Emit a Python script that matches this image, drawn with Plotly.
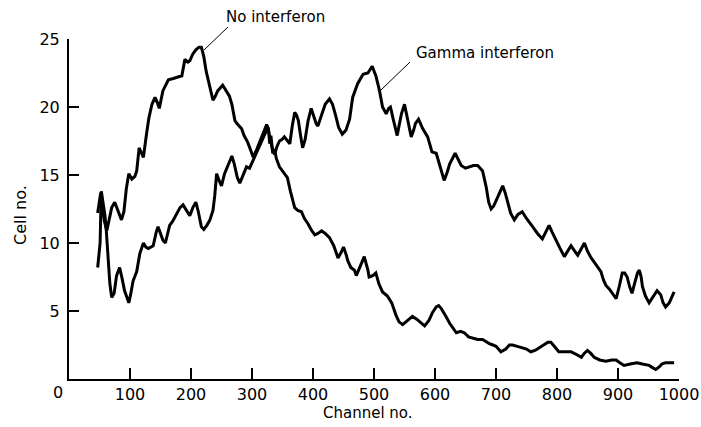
import plotly.graph_objects as go

# ---- data ----
no_ifn_channel = [47, 50, 52, 55, 58, 62, 66, 70, 75, 80, 86, 90, 94, 98, 103, 108, 111, 115, 119, 122,
                  127, 131, 136, 141, 145, 148, 154, 158, 163, 171, 179, 185, 190, 195, 198, 203, 208, 213,
                  217, 221, 225, 231, 236, 240, 244, 252, 258, 263, 267, 272, 275, 283, 287, 293, 298, 302,
                  308, 314, 320, 324, 327, 329, 331, 334, 337, 340, 345, 350, 358, 363, 370, 375, 381, 386,
                  392, 398, 403, 408, 414, 420, 427, 434, 441, 446, 450, 454, 457, 462, 468, 471, 477, 484,
                  490, 492, 498, 503, 508, 514, 522, 529, 536, 541, 547, 555, 563, 570, 577, 583, 590, 596,
                  602, 606, 610, 613, 618, 624, 630, 635, 642, 648, 655, 661, 670, 678, 684, 689, 695, 700,
                  708, 716, 722, 727, 735, 743, 750, 757, 764, 771, 778, 785, 790, 796, 803, 812, 823, 832,
                  840, 845, 850, 855, 861, 870, 880, 890, 897, 903, 910, 920, 931, 940, 951, 958, 962, 968,
                  972, 978, 985, 992]
no_ifn_cells = [12.2, 13.0, 13.7, 12.5, 11.6, 10.9, 11.8, 12.6, 13.0, 12.4, 11.7, 12.3, 14.0, 15.1, 14.7,
                14.9, 15.3, 17.0, 16.6, 16.3, 18.0, 19.2, 20.2, 20.7, 20.3, 19.9, 21.2, 21.6, 22.0, 22.1,
                22.2, 22.3, 23.5, 23.3, 23.4, 23.9, 24.2, 24.4, 24.4, 23.7, 22.6, 21.4, 20.5, 20.8, 21.2,
                21.6, 21.2, 20.8, 20.2, 19.0, 18.8, 18.4, 17.9, 17.4, 16.8, 16.3, 16.9, 17.6, 18.3, 18.7,
                18.4, 17.3, 17.9, 16.6, 16.9, 16.2, 15.6, 15.3, 14.8, 13.8, 12.6, 12.4, 12.3, 11.8, 11.4,
                10.9, 10.6, 10.7, 10.9, 10.7, 10.4, 9.8, 8.9, 9.3, 9.7, 9.2, 8.7, 8.2, 8.0, 7.6, 8.3, 9.0,
                8.0, 7.5, 7.6, 7.8, 7.0, 6.4, 6.1, 5.6, 4.7, 4.2, 4.0, 4.3, 4.6, 4.4, 4.1, 3.9, 4.3, 4.9,
                5.3, 5.4, 5.2, 5.0, 4.6, 4.1, 3.7, 3.4, 3.5, 3.4, 3.1, 3.0, 2.9, 2.9, 2.7, 2.6, 2.5, 2.4,
                2.0, 2.2, 2.5, 2.5, 2.4, 2.3, 2.2, 2.0, 2.1, 2.3, 2.5, 2.7, 2.7, 2.4, 2.0, 2.0, 2.0, 1.8,
                1.6, 1.9, 2.1, 1.9, 1.6, 1.4, 1.3, 1.4, 1.4, 1.2, 1.0, 1.1, 1.2, 1.1, 1.0, 0.8, 0.7, 0.9,
                1.1, 1.2, 1.2, 1.2]

gamma_channel = [47, 49, 51, 52, 53, 55, 57, 59, 61, 63, 65, 67, 70, 74, 78, 83, 87, 91, 95, 98, 101, 105,
                 111, 116, 122, 126, 130, 138, 143, 146, 150, 154, 158, 162, 165, 170, 177, 182, 187, 192,
                 198, 203, 208, 212, 217, 221, 226, 231, 236, 239, 242, 246, 250, 255, 260, 264, 267, 271,
                 276, 280, 285, 291, 296, 302, 306, 312, 318, 323, 326, 329, 333, 337, 341, 345, 349, 353,
                 358, 362, 366, 370, 373, 376, 380, 383, 387, 392, 397, 402, 405, 408, 414, 420, 427, 432,
                 437, 442, 448, 454, 460, 465, 473, 482, 490, 497, 503, 509, 514, 520, 524, 527, 531, 535,
                 538, 541, 545, 550, 555, 561, 565, 568, 573, 580, 588, 595, 602, 606, 610, 615, 620, 624,
                 633, 638, 643, 650, 656, 663, 670, 678, 684, 688, 692, 696, 700, 705, 711, 715, 719, 724,
                 730, 736, 743, 750, 760, 768, 776, 782, 787, 792, 798, 805, 812, 818, 823, 829, 834, 840,
                 845, 850, 856, 861, 866, 872, 876, 880, 886, 892, 897, 902, 907, 911, 915, 919, 923, 927,
                 932, 935, 938, 940, 945, 951, 958, 964, 970, 974, 978, 984, 988, 992]
gamma_cells = [8.2, 9.3, 10.0, 12.0, 13.8, 13.2, 12.6, 12.0, 11.0, 9.5, 8.0, 7.0, 6.0, 6.3, 7.6, 8.2, 7.4,
               6.5, 6.0, 5.6, 6.2, 7.2, 7.9, 9.2, 10.0, 9.7, 9.6, 9.8, 10.8, 11.2, 10.7, 10.2, 10.0, 10.8,
               11.3, 11.6, 12.2, 12.6, 12.8, 12.4, 12.0, 12.6, 13.0, 12.3, 11.2, 11.0, 11.3, 11.7, 12.4,
               13.5, 15.1, 14.6, 14.2, 15.1, 15.6, 16.0, 16.4, 15.8, 14.8, 14.4, 15.0, 15.6, 15.5, 16.1,
               16.6, 17.2, 17.8, 18.3, 18.5, 17.8, 17.0, 16.5, 17.1, 17.5, 17.6, 17.8, 17.5, 17.3, 18.6,
               19.6, 19.4, 19.0, 17.8, 17.0, 17.6, 19.0, 19.9, 19.2, 18.8, 18.6, 19.4, 20.2, 20.6, 20.2,
               19.4, 18.5, 18.0, 18.3, 19.1, 20.7, 21.7, 22.4, 22.5, 23.0, 22.3, 21.2, 20.0, 19.5, 19.9,
               20.0, 19.2, 18.4, 17.9, 18.6, 19.5, 20.2, 19.0, 17.8, 18.3, 18.8, 19.1, 18.4, 17.8, 16.7,
               16.6, 16.0, 15.3, 14.6, 15.2, 15.8, 16.6, 16.2, 15.7, 15.5, 15.6, 15.7, 15.7, 15.3, 14.1,
               13.0, 12.5, 12.7, 13.1, 13.6, 14.2, 13.7, 13.0, 12.2, 11.7, 12.1, 12.3, 11.8, 11.2, 10.7,
               10.3, 10.8, 11.3, 10.8, 10.2, 9.6, 9.0, 9.4, 9.8, 9.4, 9.1, 9.6, 10.0, 9.4, 8.9, 8.6, 8.3,
               7.9, 7.3, 6.9, 6.6, 6.2, 5.9, 6.8, 7.8, 7.8, 7.5, 6.8, 6.3, 7.0, 7.8, 8.0, 7.5, 6.8, 6.1,
               5.6, 6.1, 6.5, 6.2, 5.6, 5.3, 5.6, 6.0, 6.4]

x_tick_values = [100, 200, 300, 400, 500, 600, 700, 800, 900, 1000]
x_tick_labels = ["100", "200", "300", "400", "500", "600", "700", "800", "900", "1000"]
y_tick_values = [5, 10, 15, 20, 25]
y_tick_labels = ["5", "10", "15", "20", "25"]

FONT = "DejaVu Sans"

fig = go.Figure()
fig.add_trace(go.Scatter(x=no_ifn_channel, y=no_ifn_cells, mode="lines",
                         line=dict(color="black", width=3), name="No interferon"))
fig.add_trace(go.Scatter(x=gamma_channel, y=gamma_cells, mode="lines",
                         line=dict(color="black", width=3), name="Gamma interferon"))

fig.update_layout(
    template="none",
    width=701, height=427,
    margin=dict(l=69, r=22, t=39, b=48, autoexpand=False),
    paper_bgcolor="white", plot_bgcolor="white",
    showlegend=False,
    font=dict(family=FONT, color="black", size=16),
    xaxis=dict(range=[0, 1000], showgrid=False, zeroline=False, showline=True, automargin=False,
               linecolor="black", linewidth=2, ticks="inside", ticklen=11, tickwidth=1.5,
               tickcolor="black", tickvals=x_tick_values, ticktext=x_tick_labels,
               tickfont=dict(family=FONT, size=16)),
    yaxis=dict(range=[0, 25], showgrid=False, zeroline=False, showline=True, automargin=False,
               linecolor="black", linewidth=2, ticks="inside", ticklen=10, tickwidth=1.5,
               tickcolor="black", tickvals=y_tick_values, ticktext=y_tick_labels,
               tickfont=dict(family=FONT, size=16), ticklabelstandoff=4),
)

def px_to_paper(px, py):
    return (px - 69) / 610.0, (379 - py) / 340.0

annots = []
x0, y0 = px_to_paper(58, 392)
annots.append(dict(x=x0, y=y0, xref="paper", yref="paper", text="0", showarrow=False,
                   font=dict(size=16), xanchor="center", yanchor="middle"))
xa, ya = px_to_paper(368, 413)
annots.append(dict(x=xa, y=ya, xref="paper", yref="paper", text="Channel no.", showarrow=False,
                   font=dict(size=15), xanchor="center", yanchor="middle"))
xc, yc = px_to_paper(21, 215)
annots.append(dict(x=xc, y=yc, xref="paper", yref="paper", text="Cell no.", showarrow=False,
                   textangle=-90, font=dict(size=16), xanchor="center", yanchor="middle"))
xn, yn = px_to_paper(275, 17)
annots.append(dict(x=xn, y=yn, xref="paper", yref="paper", text="No interferon", showarrow=False,
                   font=dict(size=15), xanchor="center", yanchor="middle"))
xg, yg = px_to_paper(485, 53)
annots.append(dict(x=xg, y=yg, xref="paper", yref="paper", text="Gamma interferon", showarrow=False,
                   font=dict(size=15), xanchor="center", yanchor="middle"))
fig.update_layout(annotations=annots)

shapes = []
for (ax1, ay1, ax2, ay2) in [(228, 27, 204, 50), (410, 62, 381, 90)]:
    p1 = px_to_paper(ax1, ay1)
    p2 = px_to_paper(ax2, ay2)
    shapes.append(dict(type="line", xref="paper", yref="paper", x0=p1[0], y0=p1[1],
                       x1=p2[0], y1=p2[1], line=dict(color="black", width=1)))
fig.update_layout(shapes=shapes)

fig.write_html(
    "out.html",
    config={"displayModeBar": False},
    post_script="document.documentElement.style.margin='0';document.body.style.margin='0';"
                "document.body.style.overflow='hidden';",
)
